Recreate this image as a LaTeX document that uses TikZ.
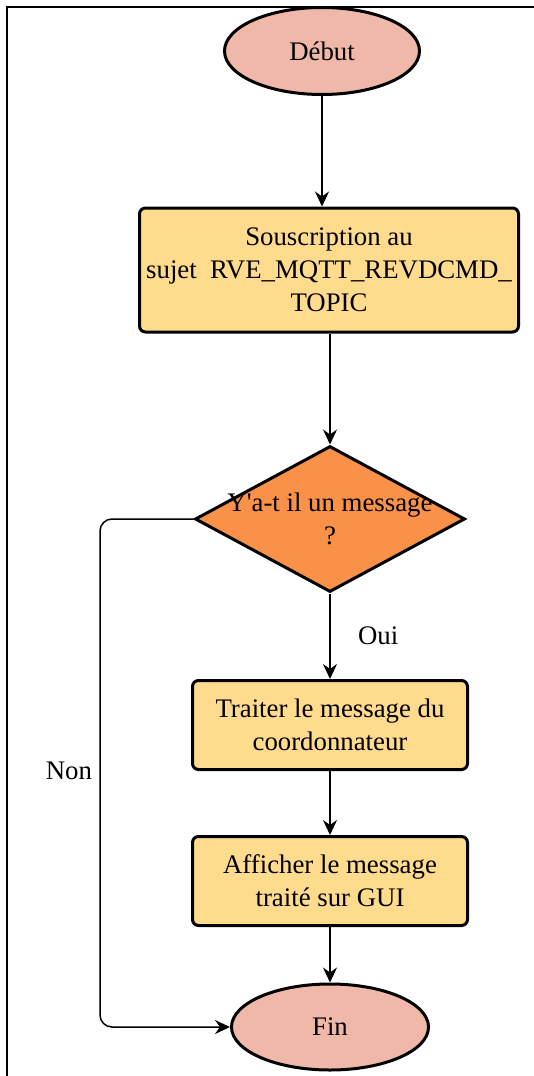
\documentclass[tikz,border=0pt]{standalone}
\usepackage{fontspec}
\setmainfont{Liberation Serif}
\usetikzlibrary{shapes.geometric,arrows.meta}
\definecolor{termfill}{HTML}{F0B8A8}
\definecolor{boxfill}{HTML}{FFDB8E}
\definecolor{decfill}{HTML}{FA9148}
\begin{document}
\begin{tikzpicture}[x=1pt,y=-1pt,
  txt/.style={font=\fontsize{26.8}{33}\selectfont, align=center},
  term/.style={ellipse, draw, line width=3pt, fill=termfill, inner sep=0pt, txt},
  proc/.style={rectangle, rounded corners=6pt, draw, line width=3pt, fill=boxfill, inner sep=0pt, txt},
  dec/.style={diamond, draw, line width=3pt, fill=decfill, inner sep=0pt, minimum width=270pt, minimum height=146pt},
  conn/.style={line width=1.5pt, -{Stealth[length=15pt,width=14pt,inset=5pt]}},
  lbl/.style={font=\fontsize{26.8}{33}\selectfont}]
\useasboundingbox (0,0) rectangle (534,1076);
\draw[line width=1.8pt] (7,1076) -- (7,7) -- (534,7);

\node[term, minimum width=195pt, minimum height=87pt] (debut) at (322,51) {Début};
\node[proc, minimum width=379pt, minimum height=124pt] (sub) at (329,270) {Souscription au\\sujet\ \ RVE\_MQTT\_REVDCMD\_\\TOPIC};
\node[dec] (q) at (330,519) {};
\node[txt] (qt) at (330,519) {Y\textquotesingle a-t il un message\\?};
\node[proc, minimum width=275pt, minimum height=89pt] (treat) at (330,725) {Traiter le message du\\coordonnateur};
\node[proc, minimum width=275pt, minimum height=89pt] (show) at (330,881) {Afficher le message\\traité sur GUI};
\node[term, minimum width=197pt, minimum height=86pt] (fin) at (330,1027) {Fin};

\coordinate (nl) at (100,519);
\coordinate (nb) at (100,1027);

\draw[conn] (debut.south) -- (debut.south |- sub.north);
\draw[conn] (sub.south -| q.north) -- (q.north);
\draw[conn] (q.south) -- node[lbl, right=24pt, pos=0.5] (oui) {Oui} (treat.north);
\draw[conn] (treat.south) -- (show.north);
\draw[conn] (show.south) -- (fin.north);
\draw[conn, rounded corners=12pt] (q.west) -- (nl) -- node[lbl, left=4pt, pos=0.495] (non) {Non} (nb) -- (fin.west);
\end{tikzpicture}
\end{document}
